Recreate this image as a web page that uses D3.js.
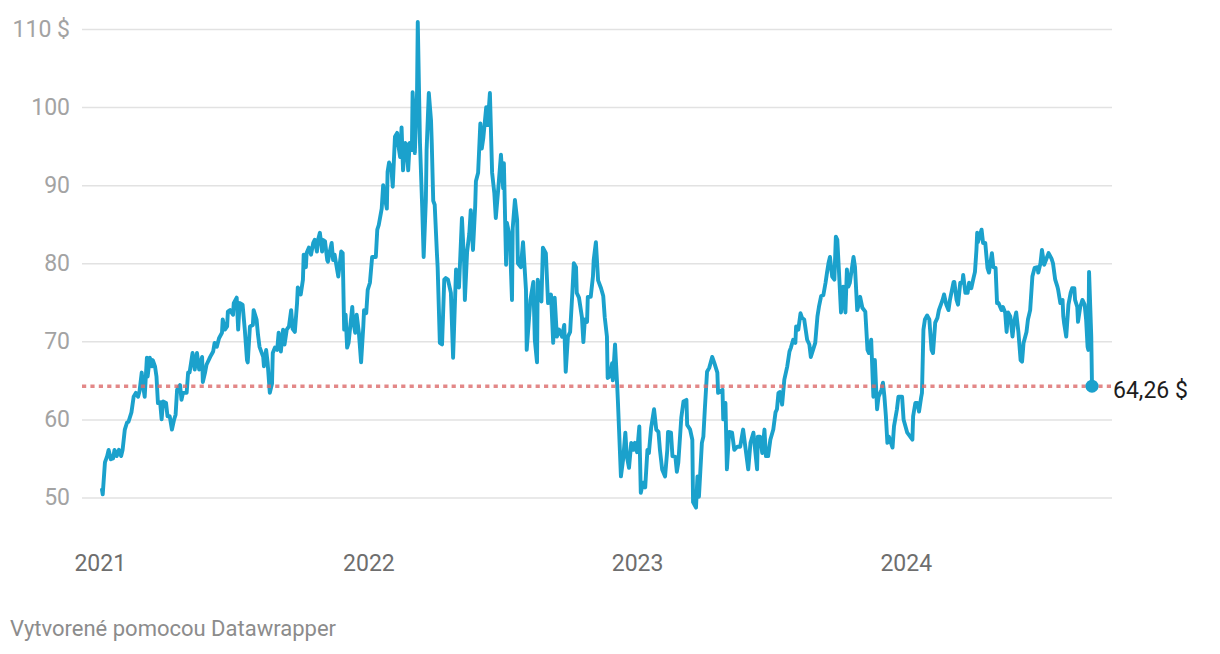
<!DOCTYPE html>
<html><head><meta charset="utf-8">
<script src="https://cdn.jsdelivr.net/npm/d3@7"></script>
<style>
html,body{margin:0;padding:0;background:#fff;}
svg{display:block;font-family:Roboto,"Noto Sans",sans-serif;}
</style>
</head><body>
<svg id="chart" width="1220" height="654"></svg>
<script>
// ---------- data ----------
const yTicks = [50, 60, 70, 80, 90, 100, 110];
const xTickYears = ["2021", "2022", "2023", "2024"];
const currencyUnit = "$";
const refValue = 64.26;
const creditText = "Vytvorené pomocou Datawrapper";

const dates2021 = [
 "01-04","01-05","01-08","01-11","01-13","01-16","01-19","01-21","01-24","01-27","01-30",
 "02-01","02-04","02-07","02-09","02-13","02-16","02-19","02-22","02-24","02-27","02-28",
 "03-03","03-06","03-07","03-10","03-13","03-14","03-17","03-19","03-21","03-24","03-26","03-28",
 "04-01","04-03","04-06","04-09","04-12","04-14","04-16","04-20","04-22","04-24","04-29",
 "05-01","05-03","05-07","05-10","05-13","05-16","05-20","05-21","05-24","05-26","05-31",
 "06-04","06-06","06-09","06-12","06-16","06-17","06-20","06-23","06-24","06-27",
 "07-01","07-02","07-06","07-08","07-10","07-14","07-17","07-20","07-21","07-24","07-28","07-29",
 "08-02","08-04","08-06","08-11","08-12","08-15","08-17","08-20","08-23","08-24","08-27","08-30",
 "09-01","09-04","09-07","09-09","09-12","09-15","09-18","09-20","09-23","09-26","09-27",
 "10-01","10-04","10-05","10-08","10-09","10-12","10-15","10-18","10-20","10-23","10-24","10-27","10-30","10-31",
 "11-03","11-06","11-07","11-10","11-12","11-14","11-16","11-21","11-25","11-27","11-29",
 "12-01","12-03","12-05","12-10","12-11","12-14","12-16","12-19","12-22","12-25","12-26","12-29","12-31"
];
const prices2021 = [
 51.0,50.4,54.5,55.3,56.1,54.9,55.0,56.1,55.3,56.1,55.3,
 56.1,58.7,59.6,59.7,60.9,62.9,63.4,62.9,63.6,66.0,64.8,
 62.9,67.9,65.5,67.9,66.8,67.6,66.8,65.5,62.1,62.2,60.0,62.3,
 62.1,60.4,60.4,58.7,60.0,60.6,63.8,64.4,62.5,63.4,63.4,
 66.0,66.0,68.5,66.4,68.5,66.4,68.0,64.8,66.0,67.0,68.0,
 68.7,69.8,69.3,70.4,71.1,72.8,71.5,71.9,73.8,74.0,
 73.4,74.9,75.6,71.5,74.9,74.7,71.5,67.6,67.3,71.9,72.1,74.0,
 72.8,70.8,69.3,68.0,66.8,68.9,67.3,63.4,64.6,68.5,69.2,68.9,
 71.1,68.7,71.5,69.6,71.5,71.9,74.0,71.6,71.2,74.9,76.9,
 76.0,77.9,81.1,79.5,81.3,82.0,81.1,82.6,83.0,81.5,82.8,83.9,81.5,83.0,
 82.8,80.4,80.2,81.7,82.6,80.4,81.1,78.3,81.5,81.3,71.5,
 73.4,69.2,69.8,74.4,72.8,71.1,73.4,71.1,67.3,71.9,74.0,73.6,76.6
];

const dates2022 = [
 "01-03","01-06","01-08","01-11","01-13","01-15","01-19","01-21","01-23","01-26","01-27","01-29",
 "02-01","02-03","02-06","02-09","02-10","02-13","02-15","02-17","02-20","02-22","02-24","02-26",
 "03-01","03-02","03-05","03-08","03-09","03-12","03-15","03-17","03-20","03-21","03-24","03-27","03-28","03-30",
 "04-01","04-04","04-05","04-08","04-11","04-14","04-16","04-19","04-23","04-26","04-30",
 "05-01","05-04","05-08","05-11","05-12","05-15","05-18","05-20","05-23","05-26","05-27","05-30",
 "06-02","06-04","06-06","06-10","06-12","06-15","06-18","06-21","06-23","06-26","06-30",
 "07-03","07-04","07-07","07-08","07-12","07-15","07-16","07-19","07-22","07-23","07-27","07-30",
 "08-03","08-04","08-09","08-13","08-15","08-18","08-19","08-24","08-26","08-30",
 "09-02","09-06","09-09","09-11","09-14","09-17","09-21","09-24","09-26","09-29",
 "10-02","10-05","10-07","10-10","10-11","10-14","10-18","10-20","10-22","10-25","10-26","10-30",
 "11-02","11-03","11-06","11-09","11-13","11-16","11-18","11-21","11-22","11-25","11-28","11-29",
 "12-02","12-05","12-06","12-10","12-13","12-16","12-18","12-21","12-24","12-27","12-29"
];
const prices2022 = [
 77.5,80.8,80.8,80.8,84.3,84.9,87.0,90.0,88.5,87.0,91.7,92.9,
 92.3,89.8,96.2,96.7,95.5,93.6,97.4,91.9,95.4,95.2,91.9,95.4,
 94.5,101.9,94.1,101.8,110.9,95.4,87.2,80.8,88.1,94.5,101.8,98.3,95.4,88.0,
 87.5,81.3,79.5,69.8,69.6,77.9,78.1,77.9,76.2,67.9,79.2,
 79.0,76.9,85.8,80.0,75.3,81.4,83.8,86.8,81.7,87.3,90.5,91.6,
 97.9,94.7,96.0,100.0,97.7,101.8,91.6,89.0,85.8,89.1,93.9,
 89.6,92.8,79.8,85.2,83.4,75.3,84.5,88.1,85.5,80.0,79.5,82.7,
 76.6,68.9,75.3,77.6,70.2,67.3,77.9,75.1,82.0,81.3,
 74.9,76.0,69.8,75.6,70.6,71.5,70.6,72.1,66.1,70.6,
 71.2,76.2,80.0,79.5,76.2,75.6,73.1,69.9,72.8,72.5,75.7,75.7,
 78.3,80.4,82.7,77.8,76.8,75.8,73.1,70.6,65.3,65.5,67.2,65.0,
 69.6,64.2,62.1,52.7,54.9,58.3,55.3,53.8,57.0,56.1,57.0
];

const dates2023 = [
 "01-01","01-04","01-06","01-09","01-12","01-15","01-17","01-20","01-24","01-27","01-30",
 "02-01","02-04","02-08","02-11","02-12","02-16","02-18","02-22","02-24","02-26",
 "03-02","03-05","03-09","03-10","03-14","03-17","03-18","03-22","03-24","03-26","03-30",
 "04-01","04-03","04-06","04-09","04-13","04-16","04-20","04-21","04-27","04-28",
 "05-01","05-03","05-06","05-10","05-13","05-17","05-21","05-25","05-28",
 "06-01","06-04","06-08","06-13","06-14","06-17","06-20","06-23","06-25","06-28",
 "07-01","07-05","07-08","07-10","07-12","07-14","07-17","07-20","07-24","07-27","07-29",
 "08-01","08-04","08-05","08-08","08-11","08-13","08-16","08-20","08-23","08-25","08-28","08-31",
 "09-03","09-05","09-08","09-11","09-14","09-16","09-18","09-20","09-23","09-26","09-28","09-30",
 "10-03","10-05","10-08","10-11","10-13","10-15","10-17","10-22","10-24","10-27","10-28","10-31",
 "11-03","11-07","11-10","11-12","11-15","11-18","11-20","11-23","11-25","11-29",
 "12-01","12-03","12-05","12-07","12-09","12-14","12-16","12-20","12-22","12-27","12-29"
];
const prices2023 = [
 55.8,59.1,50.6,51.9,51.3,56.1,55.7,58.9,61.3,58.7,58.4,
 56.1,53.6,52.7,56.1,58.4,58.3,55.3,55.2,53.3,54.5,
 60.2,62.3,62.5,59.3,58.7,57.4,49.4,48.7,52.7,50.1,57.0,
 57.8,61.3,66.1,66.6,68.0,67.2,66.0,63.4,63.8,60.0,
 62.1,53.6,58.4,58.3,56.1,56.5,56.5,58.7,56.5,
 53.6,57.0,58.3,53.6,57.8,57.8,55.7,58.7,55.3,55.3,
 57.4,58.7,60.9,61.3,63.4,63.5,61.9,65.1,66.8,68.7,69.2,
 70.2,69.8,71.9,71.5,73.6,73.0,72.8,70.2,69.6,68.0,68.9,69.8,
 73.2,74.4,75.8,75.9,77.5,78.8,80.0,80.8,78.3,77.9,83.4,83.0,
 77.5,73.7,77.0,73.7,79.2,77.0,77.5,80.8,79.5,74.0,74.3,75.7,
 74.3,73.8,68.9,68.5,70.2,62.9,67.6,61.3,62.9,63.8,
 64.7,62.9,60.4,57.0,57.8,56.4,59.1,61.3,62.9,62.9,60.0
];

const dates2024 = [
 "01-03","01-07","01-10","01-11","01-14","01-17","01-19","01-22","01-23","01-25","01-27","01-30",
 "02-02","02-05","02-07","02-10","02-13","02-15","02-20","02-22","02-25","02-28",
 "03-01","03-06","03-07","03-10","03-12","03-15","03-18","03-19","03-22","03-25","03-27","03-30",
 "04-02","04-04","04-06","04-07","04-08","04-13","04-15","04-18","04-21","04-23","04-27","04-29",
 "05-02","05-04","05-06","05-10","05-12","05-15","05-17","05-19","05-22","05-25","05-27","05-30",
 "06-02","06-05","06-07","06-09","06-13","06-15","06-18","06-21","06-24","06-28","06-29",
 "07-02","07-04","07-07","07-11","07-13","07-17","07-19","07-22","07-25","07-26","07-29",
 "08-01","08-02","08-03","08-06","08-09","08-12","08-14","08-17","08-18","08-21","08-22","08-25","08-28","08-31",
 "09-02","09-04","09-05","09-06","09-09","09-10"
];
const prices2024 = [
 58.3,57.8,57.4,60.4,62.1,62.1,61.0,62.9,63.4,71.5,72.8,73.3,
 72.8,68.9,68.5,72.4,73.0,74.0,75.3,76.0,74.7,74.0,
 75.3,77.6,77.6,75.3,74.7,77.5,77.5,78.5,76.2,76.2,77.5,76.8,
 78.1,78.9,81.7,83.9,82.7,84.3,82.6,82.6,79.4,78.8,81.3,79.5,
 79.4,74.9,74.9,74.0,74.4,73.7,71.2,73.7,73.2,70.6,72.4,73.7,
 71.2,67.6,67.4,69.8,71.2,72.8,74.0,78.3,79.4,79.5,78.8,
 80.0,81.7,79.8,80.8,81.3,80.6,80.0,77.9,77.0,76.6,74.9,
 75.3,73.2,72.4,70.6,74.7,76.2,76.8,76.8,75.3,74.4,72.5,74.4,75.3,74.7,
 72.8,69.3,68.9,78.9,70.6,64.26
];

// ---------- build series ----------
const parse = d3.timeParse("%Y-%m-%d");
const years = [
  ["2021", dates2021, prices2021],
  ["2022", dates2022, prices2022],
  ["2023", dates2023, prices2023],
  ["2024", dates2024, prices2024]
];
const data = [];
years.forEach(([yr, ds, ps]) => {
  ds.forEach((md, i) => data.push({date: parse(yr + "-" + md), value: ps[i]}));
});

// ---------- layout ----------
const gridLeft = 82, gridRight = 1112;
const svg = d3.select("#chart");

const x = d3.scaleTime()
  .domain(d3.extent(data, d => d.date))
  .range([102, 1092]);
const y = d3.scaleLinear().domain([50, 110]).range([497.5, 29]);

const locale = d3.formatLocale({decimal: ",", thousands: "\u00a0", grouping: [3], currency: ["", " $"]});
const fmt2 = locale.format(".2f");

// y axis with gridlines
const yAxis = d3.axisLeft(y)
  .tickValues(yTicks)
  .tickSize(-(gridRight - gridLeft))
  .tickPadding(12)
  .tickFormat(d => d === 110 ? d + " " + currencyUnit : d);
const gy = svg.append("g").attr("transform", `translate(${gridLeft},0)`).call(yAxis);
gy.select(".domain").remove();
gy.selectAll(".tick line").attr("stroke", "#e2e2e2").attr("stroke-width", 1.5);
gy.selectAll(".tick text")
  .attr("fill", "#a3a3a3")
  .style("font-size", "23px")
  .style("font-family", "Roboto, sans-serif");

// x axis
const xAxis = d3.axisBottom(x)
  .tickValues(xTickYears.map(s => d3.timeParse("%Y")(s)))
  .tickFormat(d3.timeFormat("%Y"))
  .tickSize(0)
  .tickPadding(0);
const gx = svg.append("g").attr("transform", "translate(0,555)").call(xAxis);
gx.select(".domain").remove();
gx.selectAll(".tick text")
  .attr("fill", "#6e6e6e")
  .style("font-size", "23px")
  .style("font-family", "Roboto, sans-serif");

// line
const line = d3.line().x(d => x(d.date)).y(d => y(d.value)).curve(d3.curveLinear);
svg.append("path")
  .datum(data)
  .attr("fill", "none")
  .attr("stroke", "#1ba1cc")
  .attr("stroke-width", 3.9)
  .attr("stroke-linejoin", "round")
  .attr("stroke-linecap", "round")
  .attr("d", line);

// reference dotted line
svg.append("line")
  .attr("x1", gridLeft).attr("x2", gridRight)
  .attr("y1", y(refValue)).attr("y2", y(refValue))
  .attr("stroke", "#dc6a6a")
  .attr("stroke-opacity", 0.8)
  .attr("stroke-width", 3.5)
  .attr("stroke-dasharray", "4.2,4.2");

// end point + label
const last = data[data.length - 1];
svg.append("circle")
  .attr("cx", x(last.date)).attr("cy", y(last.value))
  .attr("r", 6.5)
  .attr("fill", "#1ba1cc");
svg.append("text")
  .attr("x", x(last.date) + 21)
  .attr("y", y(last.value))
  .attr("dy", "0.52em")
  .attr("fill", "#1d1d1d")
  .style("font-size", "23px")
  .style("font-family", "Roboto, sans-serif")
  .text(fmt2(last.value) + " " + currencyUnit);

// credit
svg.append("text")
  .attr("x", 10).attr("y", 636)
  .attr("fill", "#8c8c8c")
  .style("font-size", "22px")
  .style("font-family", "Roboto, sans-serif")
  .text(creditText);
</script>
</body></html>
